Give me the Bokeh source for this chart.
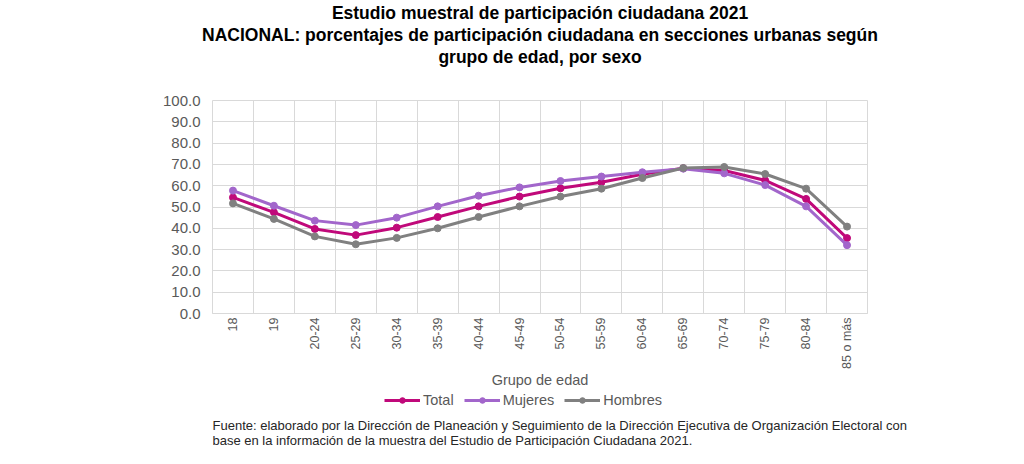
from bokeh.plotting import figure
from bokeh.layouts import column
from bokeh.models import (FactorRange, Range1d, FixedTicker, Title, Legend, LegendItem, Label,
                          ColumnDataSource, NumeralTickFormatter)
from bokeh.embed import file_html
from bokeh.resources import INLINE
from math import pi

categories = ["18", "19", "20-24", "25-29", "30-34", "35-39", "40-44", "45-49", "50-54",
              "55-59", "60-64", "65-69", "70-74", "75-79", "80-84", "85 o más"]
total = [54.5, 47.5, 39.7, 36.8, 40.3, 45.3, 50.3, 54.9, 58.8, 61.6, 65.4, 68.2, 67.1, 62.5, 53.8, 35.4]
mujeres = [57.7, 50.6, 43.6, 41.5, 45.0, 50.3, 55.3, 59.2, 62.2, 64.3, 66.3, 68.0, 65.8, 60.3, 50.3, 32.1]
hombres = [51.7, 44.4, 36.2, 32.5, 35.5, 40.0, 45.3, 50.3, 54.9, 58.6, 63.6, 68.3, 68.8, 65.5, 58.6, 40.8]
y_ticks = [0, 10, 20, 30, 40, 50, 60, 70, 80, 90, 100]

title_lines = ["Estudio muestral de participación ciudadana 2021",
               "NACIONAL: porcentajes de participación ciudadana en secciones urbanas según",
               "grupo de edad, por sexo"]
note_lines = ["Fuente: elaborado por la Dirección de Planeación y Seguimiento de la Dirección Ejecutiva de Organización Electoral con",
              "base en la información de la muestra del Estudio de Participación Ciudadana 2021."]

series = [("Total", total, "#C0097A"), ("Mujeres", mujeres, "#A266CB"), ("Hombres", hombres, "#808080")]

FONT = "Liberation Sans"
GRAY_TXT = "#595959"
GRID = "#D9D9D9"

# ---------------- main chart ----------------
p = figure(frame_width=655, frame_height=213, x_range=FactorRange(*categories), y_range=Range1d(0, 100),
           output_backend="svg", toolbar_location=None,
           min_border_left=212, min_border_right=149, min_border_top=0, min_border_bottom=76)
p.outline_line_color = GRID
p.background_fill_color = "white"
p.border_fill_color = "white"

p.ygrid.ticker = FixedTicker(ticks=y_ticks)
p.ygrid.grid_line_color = GRID
p.xgrid.ticker = FixedTicker(ticks=list(range(1, len(categories))))
p.xgrid.grid_line_color = GRID

p.yaxis.ticker = FixedTicker(ticks=y_ticks)
p.yaxis.formatter = NumeralTickFormatter(format="0.0")
p.yaxis.axis_line_color = None
p.yaxis.major_tick_line_color = None
p.yaxis.minor_tick_line_color = None
p.yaxis.major_tick_out = 0
p.yaxis.major_label_standoff = 12
p.yaxis.major_label_text_font = FONT
p.yaxis.major_label_text_font_size = "15px"
p.yaxis.major_label_text_color = GRAY_TXT

p.xaxis.axis_line_color = GRID
p.xaxis.major_tick_line_color = None
p.xaxis.minor_tick_line_color = None
p.xaxis.major_tick_out = 0
p.xaxis.major_label_orientation = pi / 2
p.xaxis.major_label_standoff = 4
p.xaxis.major_label_text_font = FONT
p.xaxis.major_label_text_font_size = "12.5px"
p.xaxis.major_label_text_color = GRAY_TXT
p.xaxis.axis_label = "Grupo de edad"
p.xaxis.axis_label_text_font = FONT
p.xaxis.axis_label_text_font_style = "normal"
p.xaxis.axis_label_text_font_size = "14.5px"
p.xaxis.axis_label_text_color = GRAY_TXT
p.xaxis.axis_label_standoff = 0

for name, vals, color in series:
    src = ColumnDataSource(dict(x=categories, y=vals))
    p.line("x", "y", source=src, line_color=color, line_width=3)
    p.scatter("x", "y", source=src, marker="circle", size=7, fill_color=color, line_color=color)

p.add_layout(Title(text=" ", text_font_size="20px", standoff=10), "above")
for t in reversed(title_lines):
    p.add_layout(Title(text=t, align="center", text_font=FONT,
                       text_font_style="bold", text_font_size="17.5px", text_color="black",
                       standoff=0), "above")

# ---------------- legend + source note ----------------
LH = 70
q = figure(frame_width=1016, frame_height=LH, x_range=FactorRange(*categories), y_range=Range1d(0, 100),
           output_backend="svg", toolbar_location=None, x_axis_location=None, y_axis_location=None,
           min_border_left=0, min_border_right=0, min_border_top=0, min_border_bottom=0)
q.outline_line_color = None
q.grid.visible = False
q.background_fill_color = "white"
q.border_fill_color = "white"

items = []
for name, vals, color in series:
    src = ColumnDataSource(dict(x=categories, y=vals))
    r1 = q.line("x", "y", source=src, line_color=color, line_width=3, visible=False)
    r2 = q.scatter("x", "y", source=src, marker="circle", size=7, fill_color=color,
                   line_color=color, visible=False)
    items.append(LegendItem(label=name, renderers=[r1, r2]))

legend = Legend(items=items, orientation="horizontal", location=(384, LH - 19),
                label_text_font=FONT, label_text_font_size="14.5px", label_text_color=GRAY_TXT,
                glyph_width=36, glyph_height=14, label_height=18, spacing=10, label_standoff=3,
                padding=0, margin=0, border_line_color=None, background_fill_alpha=0)
q.add_layout(legend)

for i, t in enumerate(note_lines):
    q.add_layout(Label(x=0, y=LH - 35 - 15 * i, x_units="screen", y_units="screen", text=t,
                       text_align="left", text_baseline="middle", text_font=FONT,
                       text_font_size="13px", text_color="#262626"))

layout = column(p, q, spacing=0)
open("out.html", "w").write(file_html(layout, INLINE))
